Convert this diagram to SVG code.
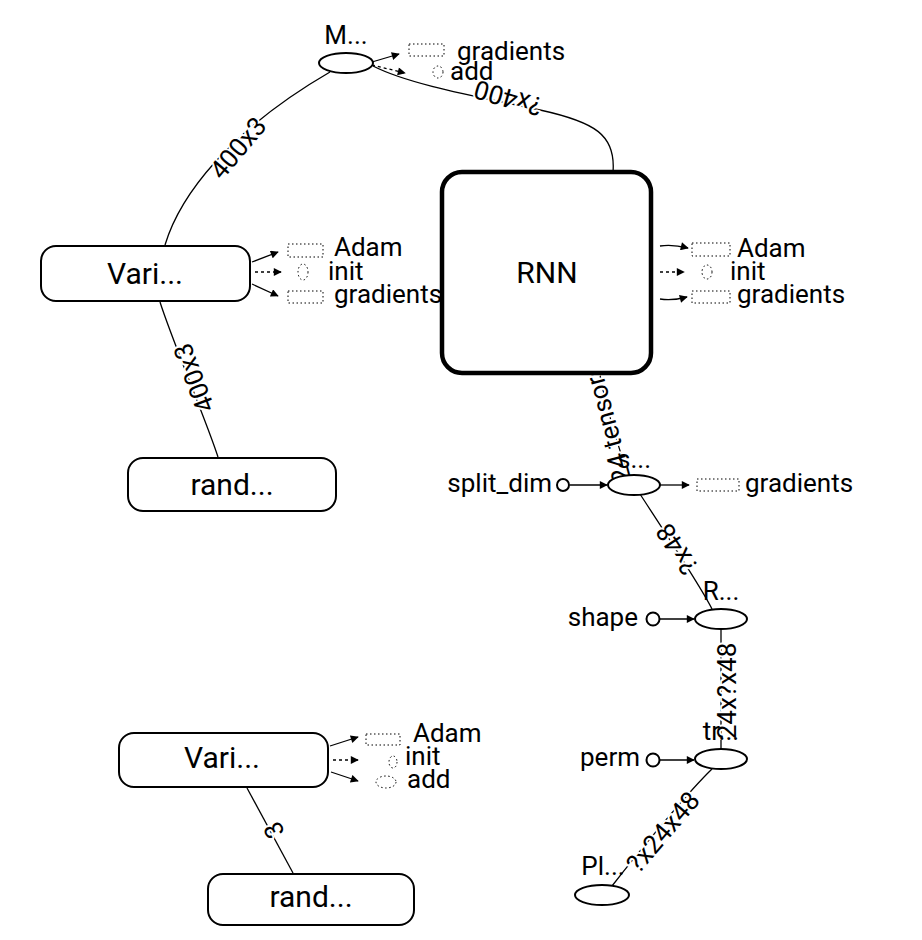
<svg xmlns="http://www.w3.org/2000/svg" width="922" height="940" viewBox="0 0 922 940">
<defs>
<marker id="arr" viewBox="0 0 10 10" refX="9" refY="5" markerWidth="9" markerHeight="8" markerUnits="userSpaceOnUse" orient="auto"><path d="M0,0 L10,5 L0,10 z" fill="#000"/></marker>
</defs>
<style>
text{font-family:Roboto,"Liberation Sans",sans-serif;fill:#000}
.big{font-size:30px}
.sm{font-size:26px}
.el{font-size:26px;stroke:#fff;stroke-width:4px;paint-order:stroke;stroke-linejoin:round}
.box{fill:#fff;stroke:#000;stroke-width:2}
.rnn{fill:#fff;stroke:#000;stroke-width:4.5}
.op{fill:#fff;stroke:#000;stroke-width:2}
.e{fill:none;stroke:#000;stroke-width:1.3}
.a{fill:none;stroke:#000;stroke-width:1.3;marker-end:url(#arr)}
.ctl{stroke-dasharray:3 3}
.dot{fill:none;stroke:#000;stroke-width:1;stroke-dasharray:1.5 2.5}
.c{fill:#fff;stroke:#000;stroke-width:2}
</style>
<rect width="922" height="940" fill="#fff"/>
<g id="connectors">
<path class="e" d="M218,457 C208,425 172,340 160,302"/>
<path class="e" d="M165,245 C180,195 230,130 330,72"/>
<path class="e" d="M613,172 C616,135 595,122 540,110 C480,97 410,85 373,66"/>
<path class="e" d="M628,476 C620,450 606,410 600,375"/>
<path class="e" d="M712,609 C700,585 660,525 640,494"/>
<path class="e" d="M721,749 L721,629"/>
<path class="e" d="M612,886 C640,850 690,790 712,769"/>
<path class="e" d="M293,873 L247,788"/>
<text class="el" text-anchor="middle" dominant-baseline="central" transform="translate(194,378) rotate(-110.5)">400x3</text>
<text class="el" text-anchor="middle" dominant-baseline="central" transform="translate(238,148) rotate(-50)">400x3</text>
<text class="el" text-anchor="middle" dominant-baseline="central" transform="translate(508,98) rotate(196)">?x400</text>
<text class="el" text-anchor="middle" dominant-baseline="central" transform="translate(607,423) rotate(-105)">24 tensors</text>
<text class="el" text-anchor="middle" dominant-baseline="central" transform="translate(677,549) rotate(-123)">?x48</text>
<text class="el" text-anchor="middle" dominant-baseline="central" transform="translate(727,691) rotate(-90)">24x?x48</text>
<text class="el" text-anchor="middle" dominant-baseline="central" transform="translate(663,832) rotate(-49.5)">?x24x48</text>
<text class="el" text-anchor="middle" dominant-baseline="central" transform="translate(274,830) rotate(-116.6)">3</text>
</g>
<g id="node-matmul">
<ellipse class="op" cx="346" cy="63" rx="27" ry="10"/>
<text class="sm" x="346" y="44" text-anchor="middle">M...</text>
<path class="a" d="M372,62 L399,54"/>
<path class="a ctl" d="M372,65 L405,73"/>
<rect class="dot" x="409" y="44" width="35" height="12"/>
<ellipse class="dot" cx="438" cy="72" rx="5" ry="6"/>
<text class="sm" x="457" y="60">gradients</text>
<text class="sm" x="450" y="80">add</text>
</g>
<g id="node-vari-top">
<rect class="box" x="41" y="246" width="209" height="55" rx="15"/>
<text class="big" x="145" y="284" text-anchor="middle">Vari...</text>
<path class="a" d="M252,262 L278,252"/>
<path class="a ctl" d="M255,272 L281,272"/>
<path class="a" d="M252,284 L278,296"/>
<rect class="dot" x="288" y="244" width="35" height="13"/>
<ellipse class="dot" cx="303" cy="272" rx="5" ry="8"/>
<rect class="dot" x="288" y="291" width="35" height="12"/>
<text class="sm" x="334" y="256">Adam</text>
<text class="sm" x="328" y="280">init</text>
<text class="sm" x="334" y="303">gradients</text>
</g>
<g id="node-rand-top">
<rect class="box" x="128" y="458" width="208" height="53" rx="15"/>
<text class="big" x="232" y="495" text-anchor="middle">rand...</text>
</g>
<g id="node-rnn">
<rect class="rnn" x="442" y="172" width="209" height="201" rx="20"/>
<text class="big" x="547" y="283" text-anchor="middle">RNN</text>
<path class="a" d="M660,246 Q672,244 688,248"/>
<path class="a ctl" d="M660,272 L684,272"/>
<path class="a" d="M660,299 Q672,301 687,297"/>
<rect class="dot" x="692" y="243" width="38" height="13"/>
<ellipse class="dot" cx="707" cy="272" rx="5" ry="7"/>
<rect class="dot" x="692" y="291" width="38" height="12"/>
<text class="sm" x="737" y="257">Adam</text>
<text class="sm" x="730" y="280">init</text>
<text class="sm" x="737" y="303">gradients</text>
</g>
<g id="node-split">
<ellipse class="op" cx="634" cy="485" rx="26" ry="10"/>
<text class="sm" x="634" y="468" text-anchor="middle">s...</text>
<text class="sm" x="552" y="492" text-anchor="end">split_dim</text>
<circle class="c" cx="563" cy="485" r="6"/>
<path class="a" d="M570,485 L607,485"/>
<path class="a" d="M660,485 L689,485"/>
<rect class="dot" x="697" y="479" width="42" height="12"/>
<text class="sm" x="745" y="492">gradients</text>
</g>
<g id="node-reshape">
<ellipse class="op" cx="721" cy="619" rx="26" ry="10"/>
<text class="sm" x="721" y="600" text-anchor="middle">R...</text>
<text class="sm" x="638" y="626" text-anchor="end">shape</text>
<circle class="c" cx="653" cy="619" r="6.5"/>
<path class="a" d="M660,619 L694,619"/>
</g>
<g id="node-transpose">
<ellipse class="op" cx="721" cy="759" rx="26" ry="10"/>
<text class="sm" x="721" y="740" text-anchor="middle">tr...</text>
<text class="sm" x="640" y="766" text-anchor="end">perm</text>
<circle class="c" cx="653" cy="760" r="6.5"/>
<path class="a" d="M660,760 L694,760"/>
</g>
<g id="node-placeholder">
<ellipse class="op" cx="602" cy="895" rx="27" ry="10"/>
<text class="sm" x="603" y="875" text-anchor="middle">Pl...</text>
</g>
<g id="node-vari-bottom">
<rect class="box" x="119" y="733" width="209" height="54" rx="15"/>
<text class="big" x="222" y="768" text-anchor="middle">Vari...</text>
<path class="a" d="M330,746 L358,737"/>
<path class="a ctl" d="M333,760 L358,760"/>
<path class="a" d="M331,772 L358,781"/>
<rect class="dot" x="366" y="734" width="34" height="11"/>
<ellipse class="dot" cx="393" cy="762" rx="4" ry="6"/>
<ellipse class="dot" cx="386" cy="782" rx="10" ry="6"/>
<text class="sm" x="413" y="742">Adam</text>
<text class="sm" x="405" y="765">init</text>
<text class="sm" x="407" y="788">add</text>
</g>
<g id="node-rand-bottom">
<rect class="box" x="208" y="874" width="206" height="51" rx="15"/>
<text class="big" x="311" y="907" text-anchor="middle">rand...</text>
</g>
</svg>
